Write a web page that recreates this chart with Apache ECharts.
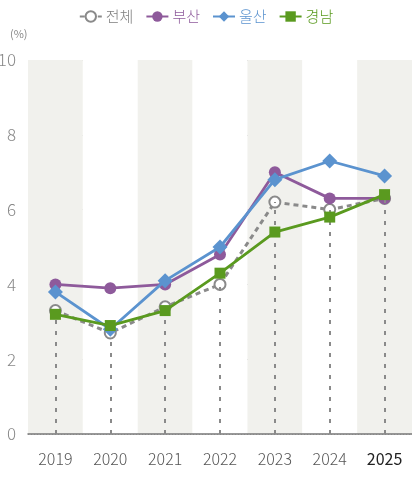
<!DOCTYPE html>
<html><head><meta charset="utf-8">
<script src="https://cdn.jsdelivr.net/npm/echarts@6/dist/echarts.min.js"></script>
<style>html,body{margin:0;padding:0;background:#fff}#c{width:412px;height:479px}</style>
</head><body><div id="c"></div>
<script>
const categories = ['2019','2020','2021','2022','2023','2024','2025'];
const total = [3.3, 2.7, 3.4, 4.0, 6.2, 6.0, 6.3];
const busan = [4.0, 3.9, 4.0, 4.8, 7.0, 6.3, 6.3];
const ulsan = [3.8, 2.8, 4.1, 5.0, 6.8, 7.3, 6.9];
const gyeongnam = [3.2, 2.9, 3.3, 4.3, 5.4, 5.8, 6.4];
const yTicks = [0, 2, 4, 6, 8, 10];
const names = ['전체','부산','울산','경남'];

const FONT = "'Noto Sans CJK KR', 'Noto Sans', sans-serif";
const chart = echarts.init(document.getElementById('c'));
const dropData = total.map((v, i) => [{coord: [i, 0]}, {coord: [i, v]}]);

chart.setOption({
  animation: false,
  textStyle: {fontFamily: FONT},
  legend: {
    top: 4, left: 'center', itemGap: 12, itemWidth: 22, itemHeight: 13,
    textStyle: {fontSize: 15, fontFamily: FONT, fontWeight: 300, padding: [0, 0, 0, -1]},
    data: names.map((n, i) => ({name: n, textStyle: {color: ['#7f7f7f','#8e5a9b','#5b93cf','#5a9a1f'][i]}}))
  },
  graphic: [{type: 'text', left: 10, top: 28, style: {text: '(%)', fontSize: 11, fill: '#888', fontFamily: FONT}}],
  grid: {left: 28, right: 0, top: 60, bottom: 45, containLabel: false, outerBoundsMode: 'none'},
  xAxis: {
    type: 'category', data: categories, boundaryGap: true,
    axisLine: {show: true, lineStyle: {color: '#777', width: 1.5}},
    axisTick: {show: false},
    axisLabel: {
      interval: 0,
      fontSize: 16, margin: 17, fontFamily: FONT, fontWeight: 300,
      formatter: (v, i) => i === categories.length - 1 ? '{b|' + v + '}' : v,
      color: '#555',
      rich: {b: {fontSize: 16, color: '#222', fontWeight: 400, fontFamily: FONT}}
    },
    splitArea: {show: true, interval: 0, areaStyle: {color: ['#f1f1ed', '#ffffff']}},
    splitLine: {show: false}
  },
  yAxis: {
    type: 'value', min: 0, max: 10, interval: 2,
    axisLine: {show: false}, axisTick: {show: false},
    axisLabel: {fontSize: 17, color: '#888', margin: 12, fontFamily: FONT, fontWeight: 300,
      formatter: v => yTicks.includes(v) ? String(v) : ''},
    splitLine: {lineStyle: {color: '#bbb', type: [1, 2], width: 1}}
  },
  series: [
    {name: '전체', type: 'line', data: total, z: 3,
      symbol: 'circle', symbolSize: 11, showAllSymbol: true,
      itemStyle: {color: '#fff', borderColor: '#8a8a8a', borderWidth: 2},
      lineStyle: {color: '#8a8a8a', width: 3, type: [5, 4]},
      markLine: {silent: true, symbol: 'none', label: {show: false},
        lineStyle: {color: '#8a8a8a', width: 2, type: [4, 7]}, data: dropData}},
    {name: '부산', type: 'line', data: busan, z: 4,
      symbol: 'circle', symbolSize: 12,
      itemStyle: {color: '#8e5a9b'}, lineStyle: {color: '#8e5a9b', width: 2.8}},
    {name: '울산', type: 'line', data: ulsan, z: 5,
      symbol: 'diamond', symbolSize: 15,
      itemStyle: {color: '#5b93cf'}, lineStyle: {color: '#5b93cf', width: 2.8}},
    {name: '경남', type: 'line', data: gyeongnam, z: 6,
      symbol: 'rect', symbolSize: 11,
      itemStyle: {color: '#5a9a1f'}, lineStyle: {color: '#5a9a1f', width: 2.8}}
  ]
});
</script></body></html>
